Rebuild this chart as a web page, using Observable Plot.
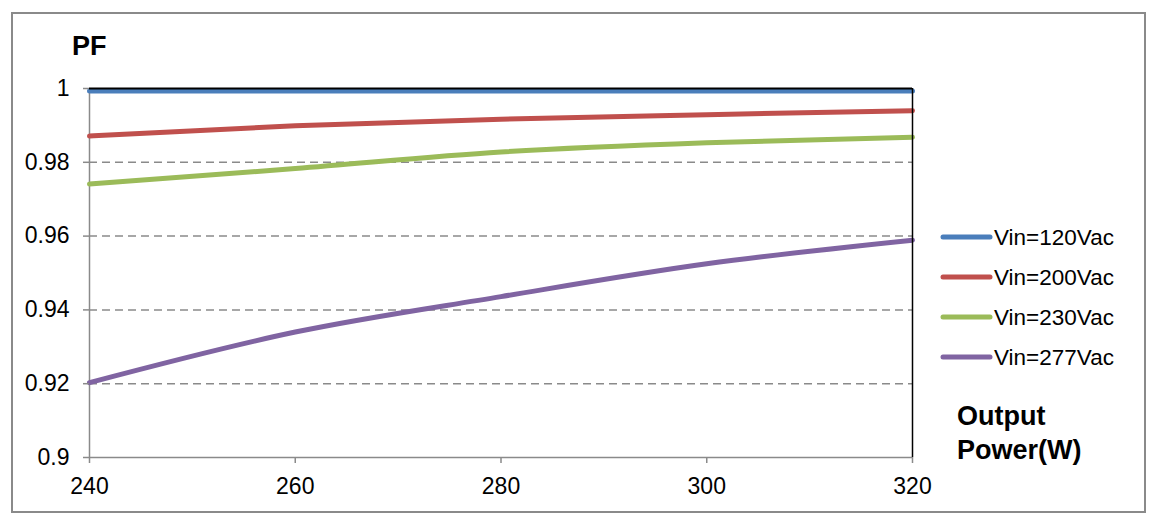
<!DOCTYPE html>
<html>
<head>
<meta charset="utf-8">
<script src="https://cdn.jsdelivr.net/npm/d3@7"></script>
<script src="https://cdn.jsdelivr.net/npm/@observablehq/plot@0.6"></script>
<style>
  html, body { margin: 0; padding: 0; background: #fff; }
  #chart { width: 1154px; height: 527px; }
  svg { font-family: "Liberation Sans", Arial, sans-serif; }
</style>
</head>
<body>
<div id="chart"></div>
<script>
// ---- data ----
const power = [240, 260, 280, 300, 320];
const pf120 = [0.9993, 0.9993, 0.9993, 0.9993, 0.9993];
const pf200 = [0.9871, 0.9899, 0.9917, 0.9929, 0.9940];
const pf230 = [0.9741, 0.9783, 0.9828, 0.9853, 0.9868];
const pf277 = [0.9203, 0.9340, 0.9436, 0.9525, 0.9589];
const seriesNames = ["Vin=120Vac", "Vin=200Vac", "Vin=230Vac", "Vin=277Vac"];
const seriesColors = ["#4a7ebb", "#c0504d", "#9bbb59", "#8064a2"];
const xTicks = [240, 260, 280, 300, 320];
const yTicks = [0.9, 0.92, 0.94, 0.96, 0.98, 1];
const gridTicks = [0.92, 0.94, 0.96, 0.98];

const seriesValues = [pf120, pf200, pf230, pf277];
const rows = [];
seriesNames.forEach((name, i) => {
  power.forEach((p, j) => rows.push({series: name, power: p, pf: seriesValues[i][j]}));
});

const W = 1154, H = 527;
const mL = 89, mR = 242, mT = 88, mB = 70;

const plot = Plot.plot({
  width: W,
  height: H,
  marginLeft: mL,
  marginRight: mR,
  marginTop: mT,
  marginBottom: mB,
  style: {fontFamily: '"Liberation Sans", Arial, sans-serif', background: "#fff", overflow: "visible"},
  x: {domain: [240, 320]},
  y: {domain: [0.9, 1]},
  color: {domain: seriesNames, range: seriesColors},
  marks: [
    Plot.ruleY(gridTicks, {stroke: "#8a8a8a", strokeWidth: 1.5, strokeDasharray: "8,5"}),
    Plot.ruleY([0.9], {stroke: "#8a8a8a", strokeWidth: 1.5}),
    Plot.ruleX([240], {stroke: "#8a8a8a", strokeWidth: 1.5}),
    Plot.line(rows, {x: "power", y: "pf", z: "series", stroke: "series", strokeWidth: 5, curve: "monotone-x"}),
    Plot.ruleY([1], {stroke: "#000", strokeWidth: 2}),
    Plot.ruleX([320], {stroke: "#000", strokeWidth: 1.5}),
    Plot.axisX({ticks: xTicks, tickSize: 6, tickPadding: 14, fontSize: 23, stroke: "#8a8a8a", strokeWidth: 1.5, fill: "#000", label: null, tickFormat: d => String(d)}),
    Plot.axisY({ticks: yTicks, tickSize: 6, tickPadding: 14, fontSize: 23, stroke: "#8a8a8a", strokeWidth: 1.5, fill: "#000", label: null, tickFormat: d => String(+d.toFixed(2))})
  ]
});

const svg = d3.select(plot);
// outer chart border
svg.insert("rect", ":first-child")
  .attr("x", 12).attr("y", 13).attr("width", 1133).attr("height", 499)
  .attr("fill", "none").attr("stroke", "#8a8a8a").attr("stroke-width", 2);

// axis titles
svg.append("text").text("PF")
  .attr("x", 72).attr("y", 55).attr("text-anchor", "start")
  .attr("font-size", 27).attr("font-weight", "bold").attr("fill", "#000");
const xt = svg.append("text").attr("font-size", 27).attr("font-weight", "bold")
  .attr("fill", "#000").attr("text-anchor", "start");
xt.append("tspan").attr("x", 957).attr("y", 425).text("Output");
xt.append("tspan").attr("x", 957).attr("y", 459).text("Power(W)");

// legend
const lg = svg.append("g").attr("text-anchor", "start");
seriesNames.forEach((name, i) => {
  const y = 237 + i * 40;
  lg.append("line")
    .attr("x1", 943).attr("x2", 990).attr("y1", y).attr("y2", y)
    .attr("stroke", seriesColors[i]).attr("stroke-width", 5).attr("stroke-linecap", "round");
  lg.append("text").text(name)
    .attr("x", 994).attr("y", y).attr("dy", "0.36em")
    .attr("font-size", 22.5).attr("fill", "#000");
});

document.getElementById("chart").appendChild(plot);
</script>
</body>
</html>
